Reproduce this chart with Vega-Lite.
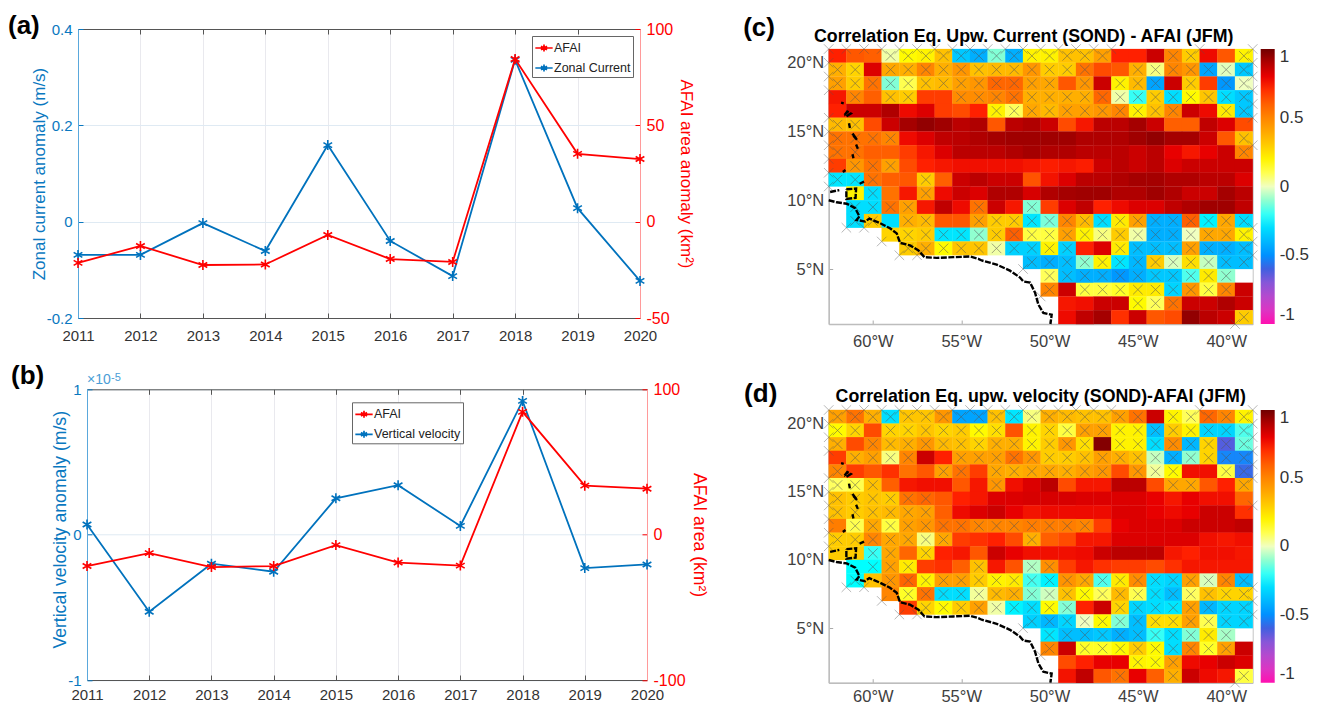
{
"$schema":"https://vega.github.io/schema/vega-lite/v6.json",
"padding":{"left":8,"top":13,"right":0,"bottom":0},
"background":"white",
"config":{"font":"Liberation Sans","view":{"stroke":null}},
"datasets":{
"coast":[
{"id":1,"n":1,"lon":-62.5,"lat":10},{"id":1,"n":2,"lon":-62.05,"lat":9.85},{"id":1,"n":3,"lon":-61.48,"lat":9.75},{"id":1,"n":4,"lon":-61,"lat":9.43},{"id":1,"n":5,"lon":-60.76,"lat":8.82},{"id":1,"n":6,"lon":-60.92,"lat":8.57},{"id":1,"n":7,"lon":-60.44,"lat":8.45},{"id":1,"n":8,"lon":-60.2,"lat":8.67},{"id":1,"n":9,"lon":-59.59,"lat":8.33},{"id":1,"n":10,"lon":-59.03,"lat":7.96},{"id":1,"n":11,"lon":-58.65,"lat":7.59},{"id":1,"n":12,"lon":-58.46,"lat":6.9},{"id":1,"n":13,"lon":-57.9,"lat":6.72},{"id":1,"n":14,"lon":-57.42,"lat":6.35},{"id":1,"n":15,"lon":-57.08,"lat":5.86},{"id":1,"n":16,"lon":-56.39,"lat":5.81},{"id":1,"n":17,"lon":-55.44,"lat":5.86},{"id":1,"n":18,"lon":-54.5,"lat":5.91},{"id":1,"n":19,"lon":-54.03,"lat":5.74},{"id":1,"n":20,"lon":-53.84,"lat":5.62},{"id":1,"n":21,"lon":-52.99,"lat":5.32},{"id":1,"n":22,"lon":-52.24,"lat":4.88},{"id":1,"n":23,"lon":-51.67,"lat":4.38},{"id":1,"n":24,"lon":-51.48,"lat":4.09},{"id":1,"n":25,"lon":-51.1,"lat":4.01},{"id":1,"n":26,"lon":-50.82,"lat":3.28},{"id":1,"n":27,"lon":-50.63,"lat":2.41},{"id":1,"n":28,"lon":-50.35,"lat":1.8},{"id":1,"n":29,"lon":-49.88,"lat":1.67},{"id":1,"n":30,"lon":-49.95,"lat":1},
{"id":2,"n":1,"lon":-62.42,"lat":10.6},{"id":2,"n":2,"lon":-61.9,"lat":10.74},
{"id":3,"n":1,"lon":-61.5,"lat":10.8},{"id":3,"n":2,"lon":-60.95,"lat":10.85},{"id":3,"n":3,"lon":-60.98,"lat":10.17},{"id":3,"n":4,"lon":-61.5,"lat":10.1},{"id":3,"n":5,"lon":-61.5,"lat":10.8},
{"id":4,"n":1,"lon":-60.75,"lat":11.2},{"id":4,"n":2,"lon":-60.5,"lat":11.35},
{"id":5,"n":1,"lon":-61.8,"lat":17.1},{"id":5,"n":2,"lon":-61.65,"lat":17.05},
{"id":6,"n":1,"lon":-61.6,"lat":16.2},{"id":6,"n":2,"lon":-61.45,"lat":16.45},{"id":6,"n":3,"lon":-61.25,"lat":16.3},{"id":6,"n":4,"lon":-61.5,"lat":16.1},{"id":6,"n":5,"lon":-61.6,"lat":16.2},
{"id":7,"n":1,"lon":-61.35,"lat":15.6},{"id":7,"n":2,"lon":-61.3,"lat":15.25},
{"id":8,"n":1,"lon":-61.15,"lat":14.85},{"id":8,"n":2,"lon":-60.9,"lat":14.4},{"id":8,"n":3,"lon":-61.1,"lat":14.7},
{"id":9,"n":1,"lon":-60.95,"lat":14.05},{"id":9,"n":2,"lon":-60.85,"lat":13.75},
{"id":10,"n":1,"lon":-61.15,"lat":13.35},{"id":10,"n":2,"lon":-61.1,"lat":13.05},
{"id":11,"n":1,"lon":-61.7,"lat":12.05},{"id":11,"n":2,"lon":-61.55,"lat":12.2}
],
"edge":[
{"lon":-62.5,"lat":21},{"lon":-61.5,"lat":21},{"lon":-60.5,"lat":21},{"lon":-59.5,"lat":21},{"lon":-58.5,"lat":21},{"lon":-57.5,"lat":21},{"lon":-56.5,"lat":21},{"lon":-55.5,"lat":21},{"lon":-54.5,"lat":21},{"lon":-53.5,"lat":21},{"lon":-52.5,"lat":21},{"lon":-51.5,"lat":21},{"lon":-50.5,"lat":21},{"lon":-49.5,"lat":21},{"lon":-48.5,"lat":21},{"lon":-47.5,"lat":21},{"lon":-46.5,"lat":21},{"lon":-41.5,"lat":21},{"lon":-38.5,"lat":21},
{"lon":-62.5,"lat":20},{"lon":-62.5,"lat":19},{"lon":-62.5,"lat":18},{"lon":-62.5,"lat":16},{"lon":-62.5,"lat":15},{"lon":-62.5,"lat":14},{"lon":-62.5,"lat":13},{"lon":-62.5,"lat":12},{"lon":-62.5,"lat":11},
{"lon":-38.5,"lat":20},{"lon":-38.5,"lat":19},{"lon":-38.5,"lat":18},{"lon":-38.5,"lat":17},{"lon":-38.5,"lat":16},{"lon":-38.5,"lat":14},{"lon":-38.5,"lat":8},{"lon":-38.5,"lat":7},{"lon":-38.5,"lat":6},
{"lon":-61.5,"lat":8},{"lon":-60.5,"lat":8},{"lon":-59.5,"lat":7},{"lon":-58.5,"lat":6},{"lon":-57.5,"lat":6},{"lon":-51.5,"lat":5},{"lon":-50.5,"lat":3},{"lon":-39.5,"lat":1}
],
"c":[
{"lon":-62,"lat":20.5,"r":0.72},{"lon":-61,"lat":20.5,"r":0.62},{"lon":-60,"lat":20.5,"r":0.6},{"lon":-59,"lat":20.5,"r":0.02,"sig":1},{"lon":-58,"lat":20.5,"r":0.18,"sig":1},{"lon":-57,"lat":20.5,"r":0.2,"sig":1},{"lon":-56,"lat":20.5,"r":0.33,"sig":1},{"lon":-55,"lat":20.5,"r":-0.35,"sig":1},{"lon":-54,"lat":20.5,"r":-0.42,"sig":1},{"lon":-53,"lat":20.5,"r":-0.12,"sig":1},{"lon":-52,"lat":20.5,"r":-0.42,"sig":1},{"lon":-51,"lat":20.5,"r":0.2,"sig":1},{"lon":-50,"lat":20.5,"r":0.2,"sig":1},{"lon":-49,"lat":20.5,"r":0.33,"sig":1},{"lon":-48,"lat":20.5,"r":0.33,"sig":1},{"lon":-47,"lat":20.5,"r":0.42,"sig":1},{"lon":-46,"lat":20.5,"r":0.72},{"lon":-45,"lat":20.5,"r":0.72},{"lon":-44,"lat":20.5,"r":0.85},{"lon":-43,"lat":20.5,"r":0.5,"sig":1},{"lon":-42,"lat":20.5,"r":0.3,"sig":1},{"lon":-41,"lat":20.5,"r":0.78},{"lon":-40,"lat":20.5,"r":0.62},{"lon":-39,"lat":20.5,"r":0.2,"sig":1},
{"lon":-62,"lat":19.5,"r":0.38,"sig":1},{"lon":-61,"lat":19.5,"r":0.28,"sig":1},{"lon":-60,"lat":19.5,"r":0.82},{"lon":-59,"lat":19.5,"r":0.4,"sig":1},{"lon":-58,"lat":19.5,"r":0.38,"sig":1},{"lon":-57,"lat":19.5,"r":0.5,"sig":1},{"lon":-56,"lat":19.5,"r":0.38,"sig":1},{"lon":-55,"lat":19.5,"r":0.45,"sig":1},{"lon":-54,"lat":19.5,"r":0.33,"sig":1},{"lon":-53,"lat":19.5,"r":0.35,"sig":1},{"lon":-52,"lat":19.5,"r":0.35,"sig":1},{"lon":-51,"lat":19.5,"r":0.45,"sig":1},{"lon":-50,"lat":19.5,"r":0.3,"sig":1},{"lon":-49,"lat":19.5,"r":0.3,"sig":1},{"lon":-48,"lat":19.5,"r":0.55,"sig":1},{"lon":-47,"lat":19.5,"r":0.65},{"lon":-46,"lat":19.5,"r":0.62},{"lon":-45,"lat":19.5,"r":0.38,"sig":1},{"lon":-44,"lat":19.5,"r":0.05,"sig":1},{"lon":-43,"lat":19.5,"r":0.5,"sig":1},{"lon":-42,"lat":19.5,"r":0.45,"sig":1},{"lon":-41,"lat":19.5,"r":-0.45,"sig":1},{"lon":-40,"lat":19.5,"r":-0.02,"sig":1},{"lon":-39,"lat":19.5,"r":-0.35,"sig":1},
{"lon":-62,"lat":18.5,"r":0.42,"sig":1},{"lon":-61,"lat":18.5,"r":0.3,"sig":1},{"lon":-60,"lat":18.5,"r":0.55,"sig":1},{"lon":-59,"lat":18.5,"r":-0.12,"sig":1},{"lon":-58,"lat":18.5,"r":0.1,"sig":1},{"lon":-57,"lat":18.5,"r":0.33,"sig":1},{"lon":-56,"lat":18.5,"r":0.35,"sig":1},{"lon":-55,"lat":18.5,"r":0.42,"sig":1},{"lon":-54,"lat":18.5,"r":0.45,"sig":1},{"lon":-53,"lat":18.5,"r":0.58,"sig":1},{"lon":-52,"lat":18.5,"r":0.58,"sig":1},{"lon":-51,"lat":18.5,"r":0.42,"sig":1},{"lon":-50,"lat":18.5,"r":0.4,"sig":1},{"lon":-49,"lat":18.5,"r":0.62},{"lon":-48,"lat":18.5,"r":0.45,"sig":1},{"lon":-47,"lat":18.5,"r":0.85},{"lon":-46,"lat":18.5,"r":0.2,"sig":1},{"lon":-45,"lat":18.5,"r":0.35,"sig":1},{"lon":-44,"lat":18.5,"r":-0.45,"sig":1},{"lon":-43,"lat":18.5,"r":0.85},{"lon":-42,"lat":18.5,"r":0.3,"sig":1},{"lon":-41,"lat":18.5,"r":0.68},{"lon":-40,"lat":18.5,"r":-0.48,"sig":1},{"lon":-39,"lat":18.5,"r":0,"sig":1},
{"lon":-62,"lat":17.5,"r":0.75},{"lon":-61,"lat":17.5,"r":0.5,"sig":1},{"lon":-60,"lat":17.5,"r":0.6},{"lon":-59,"lat":17.5,"r":0.33,"sig":1},{"lon":-58,"lat":17.5,"r":0.3,"sig":1},{"lon":-57,"lat":17.5,"r":0.68},{"lon":-56,"lat":17.5,"r":0.68},{"lon":-55,"lat":17.5,"r":0.48,"sig":1},{"lon":-54,"lat":17.5,"r":0.48,"sig":1},{"lon":-53,"lat":17.5,"r":0.5,"sig":1},{"lon":-52,"lat":17.5,"r":0.55,"sig":1},{"lon":-51,"lat":17.5,"r":0.38,"sig":1},{"lon":-50,"lat":17.5,"r":0.38,"sig":1},{"lon":-49,"lat":17.5,"r":0.38,"sig":1},{"lon":-48,"lat":17.5,"r":0.38,"sig":1},{"lon":-47,"lat":17.5,"r":0.58,"sig":1},{"lon":-46,"lat":17.5,"r":0.02,"sig":1},{"lon":-45,"lat":17.5,"r":-0.2,"sig":1},{"lon":-44,"lat":17.5,"r":0.3,"sig":1},{"lon":-43,"lat":17.5,"r":-0.3,"sig":1},{"lon":-42,"lat":17.5,"r":0.18,"sig":1},{"lon":-41,"lat":17.5,"r":0.32,"sig":1},{"lon":-40,"lat":17.5,"r":-0.3,"sig":1},{"lon":-39,"lat":17.5,"r":-0.35,"sig":1},
{"lon":-62,"lat":16.5,"r":0.72},{"lon":-61,"lat":16.5,"r":0.85},{"lon":-60,"lat":16.5,"r":0.85},{"lon":-59,"lat":16.5,"r":0.9},{"lon":-58,"lat":16.5,"r":0.78},{"lon":-57,"lat":16.5,"r":0.82},{"lon":-56,"lat":16.5,"r":0.68},{"lon":-55,"lat":16.5,"r":0.65},{"lon":-54,"lat":16.5,"r":0.72},{"lon":-53,"lat":16.5,"r":0.2,"sig":1},{"lon":-52,"lat":16.5,"r":0.08,"sig":1},{"lon":-51,"lat":16.5,"r":0.4,"sig":1},{"lon":-50,"lat":16.5,"r":0.35,"sig":1},{"lon":-49,"lat":16.5,"r":0.42,"sig":1},{"lon":-48,"lat":16.5,"r":0.42,"sig":1},{"lon":-47,"lat":16.5,"r":0.45,"sig":1},{"lon":-46,"lat":16.5,"r":0.5,"sig":1},{"lon":-45,"lat":16.5,"r":0.2,"sig":1},{"lon":-44,"lat":16.5,"r":0.33,"sig":1},{"lon":-43,"lat":16.5,"r":0.5,"sig":1},{"lon":-42,"lat":16.5,"r":0.85},{"lon":-41,"lat":16.5,"r":0.78},{"lon":-40,"lat":16.5,"r":0.22,"sig":1},{"lon":-39,"lat":16.5,"r":-0.35,"sig":1},
{"lon":-62,"lat":15.5,"r":0.35,"sig":1},{"lon":-61,"lat":15.5,"r":0.33,"sig":1},{"lon":-60,"lat":15.5,"r":0.65},{"lon":-59,"lat":15.5,"r":0.85},{"lon":-58,"lat":15.5,"r":0.92},{"lon":-57,"lat":15.5,"r":0.95},{"lon":-56,"lat":15.5,"r":0.93},{"lon":-55,"lat":15.5,"r":0.88},{"lon":-54,"lat":15.5,"r":0.9},{"lon":-53,"lat":15.5,"r":0.62},{"lon":-52,"lat":15.5,"r":0.88},{"lon":-51,"lat":15.5,"r":0.9},{"lon":-50,"lat":15.5,"r":0.85},{"lon":-49,"lat":15.5,"r":0.65},{"lon":-48,"lat":15.5,"r":0.75},{"lon":-47,"lat":15.5,"r":0.88},{"lon":-46,"lat":15.5,"r":0.88},{"lon":-45,"lat":15.5,"r":0.92},{"lon":-44,"lat":15.5,"r":0.85},{"lon":-43,"lat":15.5,"r":0.6},{"lon":-42,"lat":15.5,"r":0.6},{"lon":-41,"lat":15.5,"r":0.87},{"lon":-40,"lat":15.5,"r":0.82},{"lon":-39,"lat":15.5,"r":0.65},
{"lon":-62,"lat":14.5,"r":0.55,"sig":1},{"lon":-61,"lat":14.5,"r":0.55,"sig":1},{"lon":-60,"lat":14.5,"r":0.55,"sig":1},{"lon":-59,"lat":14.5,"r":0.5,"sig":1},{"lon":-58,"lat":14.5,"r":0.78},{"lon":-57,"lat":14.5,"r":0.82},{"lon":-56,"lat":14.5,"r":0.87},{"lon":-55,"lat":14.5,"r":0.88},{"lon":-54,"lat":14.5,"r":0.9},{"lon":-53,"lat":14.5,"r":0.92},{"lon":-52,"lat":14.5,"r":0.93},{"lon":-51,"lat":14.5,"r":0.93},{"lon":-50,"lat":14.5,"r":0.93},{"lon":-49,"lat":14.5,"r":0.93},{"lon":-48,"lat":14.5,"r":0.9},{"lon":-47,"lat":14.5,"r":0.9},{"lon":-46,"lat":14.5,"r":0.9},{"lon":-45,"lat":14.5,"r":0.93},{"lon":-44,"lat":14.5,"r":0.95},{"lon":-43,"lat":14.5,"r":0.92},{"lon":-42,"lat":14.5,"r":0.92},{"lon":-41,"lat":14.5,"r":0.85},{"lon":-40,"lat":14.5,"r":0.62},{"lon":-39,"lat":14.5,"r":0.33,"sig":1},
{"lon":-62,"lat":13.5,"r":0.55,"sig":1},{"lon":-61,"lat":13.5,"r":0.55,"sig":1},{"lon":-60,"lat":13.5,"r":0.6},{"lon":-59,"lat":13.5,"r":0.6},{"lon":-58,"lat":13.5,"r":0.68},{"lon":-57,"lat":13.5,"r":0.75},{"lon":-56,"lat":13.5,"r":0.82},{"lon":-55,"lat":13.5,"r":0.88},{"lon":-54,"lat":13.5,"r":0.88},{"lon":-53,"lat":13.5,"r":0.88},{"lon":-52,"lat":13.5,"r":0.9},{"lon":-51,"lat":13.5,"r":0.92},{"lon":-50,"lat":13.5,"r":0.9},{"lon":-49,"lat":13.5,"r":0.9},{"lon":-48,"lat":13.5,"r":0.88},{"lon":-47,"lat":13.5,"r":0.88},{"lon":-46,"lat":13.5,"r":0.88},{"lon":-45,"lat":13.5,"r":0.85},{"lon":-44,"lat":13.5,"r":0.88},{"lon":-43,"lat":13.5,"r":0.8},{"lon":-42,"lat":13.5,"r":0.75},{"lon":-41,"lat":13.5,"r":0.8},{"lon":-40,"lat":13.5,"r":0.85},{"lon":-39,"lat":13.5,"r":0.5,"sig":1},
{"lon":-62,"lat":12.5,"r":0.68},{"lon":-61,"lat":12.5,"r":0.45,"sig":1},{"lon":-60,"lat":12.5,"r":0.55,"sig":1},{"lon":-59,"lat":12.5,"r":0.42,"sig":1},{"lon":-58,"lat":12.5,"r":0.65},{"lon":-57,"lat":12.5,"r":0.72},{"lon":-56,"lat":12.5,"r":0.75},{"lon":-55,"lat":12.5,"r":0.77},{"lon":-54,"lat":12.5,"r":0.77},{"lon":-53,"lat":12.5,"r":0.77},{"lon":-52,"lat":12.5,"r":0.77},{"lon":-51,"lat":12.5,"r":0.75},{"lon":-50,"lat":12.5,"r":0.73},{"lon":-49,"lat":12.5,"r":0.75},{"lon":-48,"lat":12.5,"r":0.73},{"lon":-47,"lat":12.5,"r":0.85},{"lon":-46,"lat":12.5,"r":0.88},{"lon":-45,"lat":12.5,"r":0.85},{"lon":-44,"lat":12.5,"r":0.88},{"lon":-43,"lat":12.5,"r":0.82},{"lon":-42,"lat":12.5,"r":0.85},{"lon":-41,"lat":12.5,"r":0.85},{"lon":-40,"lat":12.5,"r":0.85},{"lon":-39,"lat":12.5,"r":0.85},
{"lon":-62,"lat":11.5,"r":-0.28,"sig":1},{"lon":-61,"lat":11.5,"r":-0.28,"sig":1},{"lon":-60,"lat":11.5,"r":0.55,"sig":1},{"lon":-59,"lat":11.5,"r":0.6},{"lon":-58,"lat":11.5,"r":0.62},{"lon":-57,"lat":11.5,"r":0.3,"sig":1},{"lon":-56,"lat":11.5,"r":0.6},{"lon":-55,"lat":11.5,"r":0.85},{"lon":-54,"lat":11.5,"r":0.88},{"lon":-53,"lat":11.5,"r":0.85},{"lon":-52,"lat":11.5,"r":0.85},{"lon":-51,"lat":11.5,"r":0.63},{"lon":-50,"lat":11.5,"r":0.76},{"lon":-49,"lat":11.5,"r":0.82},{"lon":-48,"lat":11.5,"r":0.88},{"lon":-47,"lat":11.5,"r":0.88},{"lon":-46,"lat":11.5,"r":0.9},{"lon":-45,"lat":11.5,"r":0.92},{"lon":-44,"lat":11.5,"r":0.92},{"lon":-43,"lat":11.5,"r":0.9},{"lon":-42,"lat":11.5,"r":0.9},{"lon":-41,"lat":11.5,"r":0.88},{"lon":-40,"lat":11.5,"r":0.88},{"lon":-39,"lat":11.5,"r":0.82},
{"lon":-61,"lat":10.5,"r":0.2},{"lon":-60,"lat":10.5,"r":-0.3,"sig":1},{"lon":-59,"lat":10.5,"r":0.55},{"lon":-58,"lat":10.5,"r":0.75},{"lon":-57,"lat":10.5,"r":0.42,"sig":1},{"lon":-56,"lat":10.5,"r":0.78},{"lon":-55,"lat":10.5,"r":0.85},{"lon":-54,"lat":10.5,"r":0.82},{"lon":-53,"lat":10.5,"r":0.9},{"lon":-52,"lat":10.5,"r":0.9},{"lon":-51,"lat":10.5,"r":0.83},{"lon":-50,"lat":10.5,"r":0.9},{"lon":-49,"lat":10.5,"r":0.92},{"lon":-48,"lat":10.5,"r":0.93},{"lon":-47,"lat":10.5,"r":0.93},{"lon":-46,"lat":10.5,"r":0.9},{"lon":-45,"lat":10.5,"r":0.9},{"lon":-44,"lat":10.5,"r":0.93},{"lon":-43,"lat":10.5,"r":0.9},{"lon":-42,"lat":10.5,"r":0.85},{"lon":-41,"lat":10.5,"r":0.85},{"lon":-40,"lat":10.5,"r":0.92},{"lon":-39,"lat":10.5,"r":0.88},
{"lon":-61,"lat":9.5,"r":-0.3,"sig":1},{"lon":-60,"lat":9.5,"r":-0.3,"sig":1},{"lon":-59,"lat":9.5,"r":0.55,"sig":1},{"lon":-58,"lat":9.5,"r":0.42,"sig":1},{"lon":-57,"lat":9.5,"r":0.75},{"lon":-56,"lat":9.5,"r":0.87},{"lon":-55,"lat":9.5,"r":0.78},{"lon":-54,"lat":9.5,"r":0.55,"sig":1},{"lon":-53,"lat":9.5,"r":0.85},{"lon":-52,"lat":9.5,"r":0.75},{"lon":-51,"lat":9.5,"r":-0.12,"sig":1},{"lon":-50,"lat":9.5,"r":0.68},{"lon":-49,"lat":9.5,"r":0.82},{"lon":-48,"lat":9.5,"r":0.87},{"lon":-47,"lat":9.5,"r":0.72},{"lon":-46,"lat":9.5,"r":0.78},{"lon":-45,"lat":9.5,"r":0.82},{"lon":-44,"lat":9.5,"r":0.82},{"lon":-43,"lat":9.5,"r":0.87},{"lon":-42,"lat":9.5,"r":0.9},{"lon":-41,"lat":9.5,"r":0.93},{"lon":-40,"lat":9.5,"r":0.93},{"lon":-39,"lat":9.5,"r":0.87},
{"lon":-61,"lat":8.5,"r":-0.3,"sig":1},{"lon":-60,"lat":8.5,"r":0.3,"sig":1},{"lon":-59,"lat":8.5,"r":-0.3},{"lon":-58,"lat":8.5,"r":0.38,"sig":1},{"lon":-57,"lat":8.5,"r":0.35,"sig":1},{"lon":-56,"lat":8.5,"r":0.62},{"lon":-55,"lat":8.5,"r":0.62},{"lon":-54,"lat":8.5,"r":0.42,"sig":1},{"lon":-53,"lat":8.5,"r":0.3,"sig":1},{"lon":-52,"lat":8.5,"r":0.3,"sig":1},{"lon":-51,"lat":8.5,"r":-0.28,"sig":1},{"lon":-50,"lat":8.5,"r":-0.13,"sig":1},{"lon":-49,"lat":8.5,"r":0.5,"sig":1},{"lon":-48,"lat":8.5,"r":0.35,"sig":1},{"lon":-47,"lat":8.5,"r":-0.3,"sig":1},{"lon":-46,"lat":8.5,"r":0.22,"sig":1},{"lon":-45,"lat":8.5,"r":0.42,"sig":1},{"lon":-44,"lat":8.5,"r":-0.42,"sig":1},{"lon":-43,"lat":8.5,"r":-0.42,"sig":1},{"lon":-42,"lat":8.5,"r":0.6,"sig":1},{"lon":-41,"lat":8.5,"r":-0.25,"sig":1},{"lon":-40,"lat":8.5,"r":0.4,"sig":1},{"lon":-39,"lat":8.5,"r":-0.3,"sig":1},
{"lon":-59,"lat":7.5,"r":0.28},{"lon":-58,"lat":7.5,"r":0.28,"sig":1},{"lon":-57,"lat":7.5,"r":0.3,"sig":1},{"lon":-56,"lat":7.5,"r":-0.28,"sig":1},{"lon":-55,"lat":7.5,"r":-0.28,"sig":1},{"lon":-54,"lat":7.5,"r":-0.1,"sig":1},{"lon":-53,"lat":7.5,"r":0.3,"sig":1},{"lon":-52,"lat":7.5,"r":0.6,"sig":1},{"lon":-51,"lat":7.5,"r":0.12,"sig":1},{"lon":-50,"lat":7.5,"r":0.12,"sig":1},{"lon":-49,"lat":7.5,"r":0.42,"sig":1},{"lon":-48,"lat":7.5,"r":0.2,"sig":1},{"lon":-47,"lat":7.5,"r":0.05,"sig":1},{"lon":-46,"lat":7.5,"r":0.3,"sig":1},{"lon":-45,"lat":7.5,"r":0.02,"sig":1},{"lon":-44,"lat":7.5,"r":-0.42,"sig":1},{"lon":-43,"lat":7.5,"r":-0.42,"sig":1},{"lon":-42,"lat":7.5,"r":0,"sig":1},{"lon":-41,"lat":7.5,"r":0.4,"sig":1},{"lon":-40,"lat":7.5,"r":0.4,"sig":1},{"lon":-39,"lat":7.5,"r":0.2,"sig":1},
{"lon":-58,"lat":6.5,"r":0.3,"sig":1},{"lon":-57,"lat":6.5,"r":0.38,"sig":1},{"lon":-56,"lat":6.5,"r":0.18,"sig":1},{"lon":-55,"lat":6.5,"r":0.32,"sig":1},{"lon":-54,"lat":6.5,"r":0.32,"sig":1},{"lon":-53,"lat":6.5,"r":0.02,"sig":1},{"lon":-52,"lat":6.5,"r":-0.33,"sig":1},{"lon":-51,"lat":6.5,"r":-0.33,"sig":1},{"lon":-50,"lat":6.5,"r":0.2,"sig":1},{"lon":-49,"lat":6.5,"r":-0.33,"sig":1},{"lon":-48,"lat":6.5,"r":0.72},{"lon":-47,"lat":6.5,"r":0.82},{"lon":-46,"lat":6.5,"r":0.22,"sig":1},{"lon":-45,"lat":6.5,"r":-0.38,"sig":1},{"lon":-44,"lat":6.5,"r":-0.38,"sig":1},{"lon":-43,"lat":6.5,"r":-0.38,"sig":1},{"lon":-42,"lat":6.5,"r":0.42,"sig":1},{"lon":-41,"lat":6.5,"r":-0.42,"sig":1},{"lon":-40,"lat":6.5,"r":-0.42,"sig":1},{"lon":-39,"lat":6.5,"r":-0.38,"sig":1},
{"lon":-51,"lat":5.5,"r":-0.38,"sig":1},{"lon":-50,"lat":5.5,"r":-0.42,"sig":1},{"lon":-49,"lat":5.5,"r":-0.38,"sig":1},{"lon":-48,"lat":5.5,"r":-0.1,"sig":1},{"lon":-47,"lat":5.5,"r":0.2,"sig":1},{"lon":-46,"lat":5.5,"r":-0.28,"sig":1},{"lon":-45,"lat":5.5,"r":-0.4,"sig":1},{"lon":-44,"lat":5.5,"r":0.3,"sig":1},{"lon":-43,"lat":5.5,"r":-0.03,"sig":1},{"lon":-42,"lat":5.5,"r":0.25,"sig":1},{"lon":-41,"lat":5.5,"r":-0.05,"sig":1},{"lon":-40,"lat":5.5,"r":-0.38,"sig":1},{"lon":-39,"lat":5.5,"r":-0.38,"sig":1},
{"lon":-50,"lat":4.5,"r":0.08,"sig":1},{"lon":-49,"lat":4.5,"r":-0.38,"sig":1},{"lon":-48,"lat":4.5,"r":-0.42,"sig":1},{"lon":-47,"lat":4.5,"r":-0.42,"sig":1},{"lon":-46,"lat":4.5,"r":-0.48,"sig":1},{"lon":-45,"lat":4.5,"r":-0.42,"sig":1},{"lon":-44,"lat":4.5,"r":-0.35,"sig":1},{"lon":-43,"lat":4.5,"r":-0.35,"sig":1},{"lon":-42,"lat":4.5,"r":-0.18,"sig":1},{"lon":-41,"lat":4.5,"r":0.22,"sig":1},{"lon":-40,"lat":4.5,"r":-0.1,"sig":1},
{"lon":-50,"lat":3.5,"r":0.5,"sig":1},{"lon":-49,"lat":3.5,"r":0.85},{"lon":-48,"lat":3.5,"r":0.12,"sig":1},{"lon":-47,"lat":3.5,"r":0.12,"sig":1},{"lon":-46,"lat":3.5,"r":0.15,"sig":1},{"lon":-45,"lat":3.5,"r":0.22,"sig":1},{"lon":-44,"lat":3.5,"r":0.22,"sig":1},{"lon":-43,"lat":3.5,"r":-0.32,"sig":1},{"lon":-42,"lat":3.5,"r":0.45,"sig":1},{"lon":-41,"lat":3.5,"r":0.12,"sig":1},{"lon":-40,"lat":3.5,"r":0.5,"sig":1},{"lon":-39,"lat":3.5,"r":0.85},
{"lon":-49,"lat":2.5,"r":0.75},{"lon":-48,"lat":2.5,"r":0.77},{"lon":-47,"lat":2.5,"r":0.85},{"lon":-46,"lat":2.5,"r":0.85},{"lon":-45,"lat":2.5,"r":0.18,"sig":1},{"lon":-44,"lat":2.5,"r":0.08,"sig":1},{"lon":-43,"lat":2.5,"r":0.55,"sig":1},{"lon":-42,"lat":2.5,"r":0.85},{"lon":-41,"lat":2.5,"r":0.85},{"lon":-40,"lat":2.5,"r":0.9},{"lon":-39,"lat":2.5,"r":0.85},
{"lon":-49,"lat":1.5,"r":0.78},{"lon":-48,"lat":1.5,"r":0.87},{"lon":-47,"lat":1.5,"r":0.92},{"lon":-46,"lat":1.5,"r":0.7},{"lon":-45,"lat":1.5,"r":0.85},{"lon":-44,"lat":1.5,"r":0.62},{"lon":-43,"lat":1.5,"r":0.65},{"lon":-42,"lat":1.5,"r":0.95},{"lon":-41,"lat":1.5,"r":0.88},{"lon":-40,"lat":1.5,"r":0.85},{"lon":-39,"lat":1.5,"r":0.3,"sig":1}
],
"d":[
{"lon":-62,"lat":20.5,"r":0.42,"sig":1},{"lon":-61,"lat":20.5,"r":0.55,"sig":1},{"lon":-60,"lat":20.5,"r":0.38,"sig":1},{"lon":-59,"lat":20.5,"r":-0.3,"sig":1},{"lon":-58,"lat":20.5,"r":0.32,"sig":1},{"lon":-57,"lat":20.5,"r":0.32,"sig":1},{"lon":-56,"lat":20.5,"r":0.45,"sig":1},{"lon":-55,"lat":20.5,"r":-0.45,"sig":1},{"lon":-54,"lat":20.5,"r":-0.45,"sig":1},{"lon":-53,"lat":20.5,"r":0.33,"sig":1},{"lon":-52,"lat":20.5,"r":-0.28,"sig":1},{"lon":-51,"lat":20.5,"r":0.05,"sig":1},{"lon":-50,"lat":20.5,"r":0.38,"sig":1},{"lon":-49,"lat":20.5,"r":0.35,"sig":1},{"lon":-48,"lat":20.5,"r":0.33,"sig":1},{"lon":-47,"lat":20.5,"r":0.33,"sig":1},{"lon":-46,"lat":20.5,"r":0.42,"sig":1},{"lon":-45,"lat":20.5,"r":0.55,"sig":1},{"lon":-44,"lat":20.5,"r":0.85},{"lon":-43,"lat":20.5,"r":0.2,"sig":1},{"lon":-42,"lat":20.5,"r":0.08,"sig":1},{"lon":-41,"lat":20.5,"r":0.58,"sig":1},{"lon":-40,"lat":20.5,"r":0.5,"sig":1},{"lon":-39,"lat":20.5,"r":0.2,"sig":1},
{"lon":-62,"lat":19.5,"r":0.18,"sig":1},{"lon":-61,"lat":19.5,"r":0.28,"sig":1},{"lon":-60,"lat":19.5,"r":0.65},{"lon":-59,"lat":19.5,"r":0.28,"sig":1},{"lon":-58,"lat":19.5,"r":0.28,"sig":1},{"lon":-57,"lat":19.5,"r":0.32,"sig":1},{"lon":-56,"lat":19.5,"r":0.28,"sig":1},{"lon":-55,"lat":19.5,"r":0.3,"sig":1},{"lon":-54,"lat":19.5,"r":0.18,"sig":1},{"lon":-53,"lat":19.5,"r":0.25,"sig":1},{"lon":-52,"lat":19.5,"r":0.63},{"lon":-51,"lat":19.5,"r":0.2,"sig":1},{"lon":-50,"lat":19.5,"r":0.28,"sig":1},{"lon":-49,"lat":19.5,"r":0.12,"sig":1},{"lon":-48,"lat":19.5,"r":0.42,"sig":1},{"lon":-47,"lat":19.5,"r":0.42,"sig":1},{"lon":-46,"lat":19.5,"r":0.2,"sig":1},{"lon":-45,"lat":19.5,"r":0.2,"sig":1},{"lon":-44,"lat":19.5,"r":-0.38,"sig":1},{"lon":-43,"lat":19.5,"r":0.3,"sig":1},{"lon":-42,"lat":19.5,"r":0.2,"sig":1},{"lon":-41,"lat":19.5,"r":-0.32,"sig":1},{"lon":-40,"lat":19.5,"r":-0.32,"sig":1},{"lon":-39,"lat":19.5,"r":-0.18,"sig":1},
{"lon":-62,"lat":18.5,"r":0.38,"sig":1},{"lon":-61,"lat":18.5,"r":0.65},{"lon":-60,"lat":18.5,"r":0.5,"sig":1},{"lon":-59,"lat":18.5,"r":0.35,"sig":1},{"lon":-58,"lat":18.5,"r":0.38,"sig":1},{"lon":-57,"lat":18.5,"r":0.45,"sig":1},{"lon":-56,"lat":18.5,"r":0.35,"sig":1},{"lon":-55,"lat":18.5,"r":0.33,"sig":1},{"lon":-54,"lat":18.5,"r":0.28,"sig":1},{"lon":-53,"lat":18.5,"r":0.38,"sig":1},{"lon":-52,"lat":18.5,"r":0.38,"sig":1},{"lon":-51,"lat":18.5,"r":0.2,"sig":1},{"lon":-50,"lat":18.5,"r":0.3,"sig":1},{"lon":-49,"lat":18.5,"r":0.45,"sig":1},{"lon":-48,"lat":18.5,"r":0.25,"sig":1},{"lon":-47,"lat":18.5,"r":0.97},{"lon":-46,"lat":18.5,"r":0.2,"sig":1},{"lon":-45,"lat":18.5,"r":0.2,"sig":1},{"lon":-44,"lat":18.5,"r":-0.3,"sig":1},{"lon":-43,"lat":18.5,"r":0.48,"sig":1},{"lon":-42,"lat":18.5,"r":-0.4,"sig":1},{"lon":-41,"lat":18.5,"r":0.28,"sig":1},{"lon":-40,"lat":18.5,"r":-0.62,"sig":1},{"lon":-39,"lat":18.5,"r":-0.15,"sig":1},
{"lon":-62,"lat":17.5,"r":0.68},{"lon":-61,"lat":17.5,"r":0.38,"sig":1},{"lon":-60,"lat":17.5,"r":0.42,"sig":1},{"lon":-59,"lat":17.5,"r":0.05,"sig":1},{"lon":-58,"lat":17.5,"r":0.5,"sig":1},{"lon":-57,"lat":17.5,"r":0.85},{"lon":-56,"lat":17.5,"r":0.72},{"lon":-55,"lat":17.5,"r":0.42,"sig":1},{"lon":-54,"lat":17.5,"r":0.42,"sig":1},{"lon":-53,"lat":17.5,"r":0.42,"sig":1},{"lon":-52,"lat":17.5,"r":0.55,"sig":1},{"lon":-51,"lat":17.5,"r":0.45,"sig":1},{"lon":-50,"lat":17.5,"r":0.3,"sig":1},{"lon":-49,"lat":17.5,"r":0.3,"sig":1},{"lon":-48,"lat":17.5,"r":0.33,"sig":1},{"lon":-47,"lat":17.5,"r":0.42,"sig":1},{"lon":-46,"lat":17.5,"r":0.38,"sig":1},{"lon":-45,"lat":17.5,"r":0.33,"sig":1},{"lon":-44,"lat":17.5,"r":-0.05,"sig":1},{"lon":-43,"lat":17.5,"r":-0.42,"sig":1},{"lon":-42,"lat":17.5,"r":-0.1,"sig":1},{"lon":-41,"lat":17.5,"r":0.28,"sig":1},{"lon":-40,"lat":17.5,"r":-0.52,"sig":1},{"lon":-39,"lat":17.5,"r":-0.52,"sig":1},
{"lon":-62,"lat":16.5,"r":0.5,"sig":1},{"lon":-61,"lat":16.5,"r":0.68},{"lon":-60,"lat":16.5,"r":0.62},{"lon":-59,"lat":16.5,"r":0.7},{"lon":-58,"lat":16.5,"r":0.55},{"lon":-57,"lat":16.5,"r":0.62},{"lon":-56,"lat":16.5,"r":0.42,"sig":1},{"lon":-55,"lat":16.5,"r":0.55,"sig":1},{"lon":-54,"lat":16.5,"r":0.68},{"lon":-53,"lat":16.5,"r":0.4,"sig":1},{"lon":-52,"lat":16.5,"r":0.38,"sig":1},{"lon":-51,"lat":16.5,"r":0.4,"sig":1},{"lon":-50,"lat":16.5,"r":0.4,"sig":1},{"lon":-49,"lat":16.5,"r":0.38,"sig":1},{"lon":-48,"lat":16.5,"r":0.42,"sig":1},{"lon":-47,"lat":16.5,"r":0.45,"sig":1},{"lon":-46,"lat":16.5,"r":0.65},{"lon":-45,"lat":16.5,"r":0.45,"sig":1},{"lon":-44,"lat":16.5,"r":0.03,"sig":1},{"lon":-43,"lat":16.5,"r":0.18,"sig":1},{"lon":-42,"lat":16.5,"r":0.77},{"lon":-41,"lat":16.5,"r":0.77},{"lon":-40,"lat":16.5,"r":0.12,"sig":1},{"lon":-39,"lat":16.5,"r":-0.58,"sig":1},
{"lon":-62,"lat":15.5,"r":0.07,"sig":1},{"lon":-61,"lat":15.5,"r":0.1,"sig":1},{"lon":-60,"lat":15.5,"r":0.33,"sig":1},{"lon":-59,"lat":15.5,"r":0.6},{"lon":-58,"lat":15.5,"r":0.75},{"lon":-57,"lat":15.5,"r":0.77},{"lon":-56,"lat":15.5,"r":0.77},{"lon":-55,"lat":15.5,"r":0.62},{"lon":-54,"lat":15.5,"r":0.75},{"lon":-53,"lat":15.5,"r":0.45,"sig":1},{"lon":-52,"lat":15.5,"r":0.77},{"lon":-51,"lat":15.5,"r":0.82},{"lon":-50,"lat":15.5,"r":0.88},{"lon":-49,"lat":15.5,"r":0.65},{"lon":-48,"lat":15.5,"r":0.75},{"lon":-47,"lat":15.5,"r":0.75},{"lon":-46,"lat":15.5,"r":0.88},{"lon":-45,"lat":15.5,"r":0.88},{"lon":-44,"lat":15.5,"r":0.65},{"lon":-43,"lat":15.5,"r":0.4,"sig":1},{"lon":-42,"lat":15.5,"r":0.4,"sig":1},{"lon":-41,"lat":15.5,"r":0.62},{"lon":-40,"lat":15.5,"r":0.72},{"lon":-39,"lat":15.5,"r":0.4,"sig":1},
{"lon":-62,"lat":14.5,"r":0.33,"sig":1},{"lon":-61,"lat":14.5,"r":0.3,"sig":1},{"lon":-60,"lat":14.5,"r":0.32,"sig":1},{"lon":-59,"lat":14.5,"r":0.3,"sig":1},{"lon":-58,"lat":14.5,"r":0.55,"sig":1},{"lon":-57,"lat":14.5,"r":0.58,"sig":1},{"lon":-56,"lat":14.5,"r":0.62},{"lon":-55,"lat":14.5,"r":0.72},{"lon":-54,"lat":14.5,"r":0.75},{"lon":-53,"lat":14.5,"r":0.82},{"lon":-52,"lat":14.5,"r":0.82},{"lon":-51,"lat":14.5,"r":0.83},{"lon":-50,"lat":14.5,"r":0.83},{"lon":-49,"lat":14.5,"r":0.83},{"lon":-48,"lat":14.5,"r":0.82},{"lon":-47,"lat":14.5,"r":0.82},{"lon":-46,"lat":14.5,"r":0.82},{"lon":-45,"lat":14.5,"r":0.82},{"lon":-44,"lat":14.5,"r":0.8},{"lon":-43,"lat":14.5,"r":0.75},{"lon":-42,"lat":14.5,"r":0.8},{"lon":-41,"lat":14.5,"r":0.77},{"lon":-40,"lat":14.5,"r":0.77},{"lon":-39,"lat":14.5,"r":0.58},
{"lon":-62,"lat":13.5,"r":0.33,"sig":1},{"lon":-61,"lat":13.5,"r":0.3,"sig":1},{"lon":-60,"lat":13.5,"r":0.33,"sig":1},{"lon":-59,"lat":13.5,"r":0.35,"sig":1},{"lon":-58,"lat":13.5,"r":0.4,"sig":1},{"lon":-57,"lat":13.5,"r":0.42,"sig":1},{"lon":-56,"lat":13.5,"r":0.6},{"lon":-55,"lat":13.5,"r":0.78},{"lon":-54,"lat":13.5,"r":0.82},{"lon":-53,"lat":13.5,"r":0.85},{"lon":-52,"lat":13.5,"r":0.8},{"lon":-51,"lat":13.5,"r":0.76},{"lon":-50,"lat":13.5,"r":0.78},{"lon":-49,"lat":13.5,"r":0.78},{"lon":-48,"lat":13.5,"r":0.78},{"lon":-47,"lat":13.5,"r":0.78},{"lon":-46,"lat":13.5,"r":0.82},{"lon":-45,"lat":13.5,"r":0.82},{"lon":-44,"lat":13.5,"r":0.8},{"lon":-43,"lat":13.5,"r":0.78},{"lon":-42,"lat":13.5,"r":0.8},{"lon":-41,"lat":13.5,"r":0.85},{"lon":-40,"lat":13.5,"r":0.85},{"lon":-39,"lat":13.5,"r":0.7},
{"lon":-62,"lat":12.5,"r":0.52},{"lon":-61,"lat":12.5,"r":0.1,"sig":1},{"lon":-60,"lat":12.5,"r":0.4,"sig":1},{"lon":-59,"lat":12.5,"r":0.12,"sig":1},{"lon":-58,"lat":12.5,"r":0.42,"sig":1},{"lon":-57,"lat":12.5,"r":0.45,"sig":1},{"lon":-56,"lat":12.5,"r":0.55,"sig":1},{"lon":-55,"lat":12.5,"r":0.55,"sig":1},{"lon":-54,"lat":12.5,"r":0.5,"sig":1},{"lon":-53,"lat":12.5,"r":0.5,"sig":1},{"lon":-52,"lat":12.5,"r":0.5,"sig":1},{"lon":-51,"lat":12.5,"r":0.52,"sig":1},{"lon":-50,"lat":12.5,"r":0.52,"sig":1},{"lon":-49,"lat":12.5,"r":0.52,"sig":1},{"lon":-48,"lat":12.5,"r":0.5,"sig":1},{"lon":-47,"lat":12.5,"r":0.68},{"lon":-46,"lat":12.5,"r":0.8},{"lon":-45,"lat":12.5,"r":0.82},{"lon":-44,"lat":12.5,"r":0.82},{"lon":-43,"lat":12.5,"r":0.82},{"lon":-42,"lat":12.5,"r":0.85},{"lon":-41,"lat":12.5,"r":0.85},{"lon":-40,"lat":12.5,"r":0.85},{"lon":-39,"lat":12.5,"r":0.87},
{"lon":-62,"lat":11.5,"r":0.3,"sig":1},{"lon":-61,"lat":11.5,"r":0.3,"sig":1},{"lon":-60,"lat":11.5,"r":0.5,"sig":1},{"lon":-59,"lat":11.5,"r":0.4,"sig":1},{"lon":-58,"lat":11.5,"r":0.4,"sig":1},{"lon":-57,"lat":11.5,"r":0.05,"sig":1},{"lon":-56,"lat":11.5,"r":0.4,"sig":1},{"lon":-55,"lat":11.5,"r":0.68},{"lon":-54,"lat":11.5,"r":0.7},{"lon":-53,"lat":11.5,"r":0.72},{"lon":-52,"lat":11.5,"r":0.65},{"lon":-51,"lat":11.5,"r":0.38,"sig":1},{"lon":-50,"lat":11.5,"r":0.6},{"lon":-49,"lat":11.5,"r":0.65},{"lon":-48,"lat":11.5,"r":0.75},{"lon":-47,"lat":11.5,"r":0.75},{"lon":-46,"lat":11.5,"r":0.82},{"lon":-45,"lat":11.5,"r":0.82},{"lon":-44,"lat":11.5,"r":0.82},{"lon":-43,"lat":11.5,"r":0.82},{"lon":-42,"lat":11.5,"r":0.82},{"lon":-41,"lat":11.5,"r":0.77},{"lon":-40,"lat":11.5,"r":0.75},{"lon":-39,"lat":11.5,"r":0.77},
{"lon":-62,"lat":10.5,"r":0.3},{"lon":-61,"lat":10.5,"r":0.3},{"lon":-60,"lat":10.5,"r":-0.2,"sig":1},{"lon":-59,"lat":10.5,"r":0.4,"sig":1},{"lon":-58,"lat":10.5,"r":0.58},{"lon":-57,"lat":10.5,"r":0.28,"sig":1},{"lon":-56,"lat":10.5,"r":0.72},{"lon":-55,"lat":10.5,"r":0.75},{"lon":-54,"lat":10.5,"r":0.62},{"lon":-53,"lat":10.5,"r":0.85},{"lon":-52,"lat":10.5,"r":0.8},{"lon":-51,"lat":10.5,"r":0.77},{"lon":-50,"lat":10.5,"r":0.77},{"lon":-49,"lat":10.5,"r":0.77},{"lon":-48,"lat":10.5,"r":0.78},{"lon":-47,"lat":10.5,"r":0.85},{"lon":-46,"lat":10.5,"r":0.88},{"lon":-45,"lat":10.5,"r":0.88},{"lon":-44,"lat":10.5,"r":0.88},{"lon":-43,"lat":10.5,"r":0.75},{"lon":-42,"lat":10.5,"r":0.72},{"lon":-41,"lat":10.5,"r":0.77},{"lon":-40,"lat":10.5,"r":0.77},{"lon":-39,"lat":10.5,"r":0.75},
{"lon":-61,"lat":9.5,"r":-0.22},{"lon":-60,"lat":9.5,"r":-0.22,"sig":1},{"lon":-59,"lat":9.5,"r":0.42,"sig":1},{"lon":-58,"lat":9.5,"r":0.22,"sig":1},{"lon":-57,"lat":9.5,"r":0.68},{"lon":-56,"lat":9.5,"r":0.7},{"lon":-55,"lat":9.5,"r":0.6},{"lon":-54,"lat":9.5,"r":0.33,"sig":1},{"lon":-53,"lat":9.5,"r":0.75},{"lon":-52,"lat":9.5,"r":0.63},{"lon":-51,"lat":9.5,"r":-0.07,"sig":1},{"lon":-50,"lat":9.5,"r":0.47,"sig":1},{"lon":-49,"lat":9.5,"r":0.68},{"lon":-48,"lat":9.5,"r":0.75},{"lon":-47,"lat":9.5,"r":0.7},{"lon":-46,"lat":9.5,"r":0.68},{"lon":-45,"lat":9.5,"r":0.68},{"lon":-44,"lat":9.5,"r":0.65},{"lon":-43,"lat":9.5,"r":0.7},{"lon":-42,"lat":9.5,"r":0.75},{"lon":-41,"lat":9.5,"r":0.75},{"lon":-40,"lat":9.5,"r":0.75},{"lon":-39,"lat":9.5,"r":0.75},
{"lon":-61,"lat":8.5,"r":-0.22,"sig":1},{"lon":-60,"lat":8.5,"r":0.33},{"lon":-59,"lat":8.5,"r":0.45,"sig":1},{"lon":-58,"lat":8.5,"r":0.58,"sig":1},{"lon":-57,"lat":8.5,"r":0.2,"sig":1},{"lon":-56,"lat":8.5,"r":0.42,"sig":1},{"lon":-55,"lat":8.5,"r":0.42,"sig":1},{"lon":-54,"lat":8.5,"r":0.3,"sig":1},{"lon":-53,"lat":8.5,"r":0.2,"sig":1},{"lon":-52,"lat":8.5,"r":0.22,"sig":1},{"lon":-51,"lat":8.5,"r":-0.19,"sig":1},{"lon":-50,"lat":8.5,"r":-0.25,"sig":1},{"lon":-49,"lat":8.5,"r":0.46,"sig":1},{"lon":-48,"lat":8.5,"r":0.4,"sig":1},{"lon":-47,"lat":8.5,"r":-0.18,"sig":1},{"lon":-46,"lat":8.5,"r":0.22,"sig":1},{"lon":-45,"lat":8.5,"r":0.48,"sig":1},{"lon":-44,"lat":8.5,"r":-0.3,"sig":1},{"lon":-43,"lat":8.5,"r":-0.32,"sig":1},{"lon":-42,"lat":8.5,"r":0.42,"sig":1},{"lon":-41,"lat":8.5,"r":-0.03,"sig":1},{"lon":-40,"lat":8.5,"r":0.5,"sig":1},{"lon":-39,"lat":8.5,"r":-0.38,"sig":1},
{"lon":-59,"lat":7.5,"r":0.5},{"lon":-58,"lat":7.5,"r":0.15,"sig":1},{"lon":-57,"lat":7.5,"r":0.55,"sig":1},{"lon":-56,"lat":7.5,"r":-0.3,"sig":1},{"lon":-55,"lat":7.5,"r":-0.3,"sig":1},{"lon":-54,"lat":7.5,"r":0.03,"sig":1},{"lon":-53,"lat":7.5,"r":0.35,"sig":1},{"lon":-52,"lat":7.5,"r":0.38,"sig":1},{"lon":-51,"lat":7.5,"r":-0.12,"sig":1},{"lon":-50,"lat":7.5,"r":-0.04,"sig":1},{"lon":-49,"lat":7.5,"r":0.33,"sig":1},{"lon":-48,"lat":7.5,"r":0.18,"sig":1},{"lon":-47,"lat":7.5,"r":0.08,"sig":1},{"lon":-46,"lat":7.5,"r":0.35,"sig":1},{"lon":-45,"lat":7.5,"r":0.1,"sig":1},{"lon":-44,"lat":7.5,"r":-0.3,"sig":1},{"lon":-43,"lat":7.5,"r":-0.38,"sig":1},{"lon":-42,"lat":7.5,"r":0.07,"sig":1},{"lon":-41,"lat":7.5,"r":0.33,"sig":1},{"lon":-40,"lat":7.5,"r":0.28,"sig":1},{"lon":-39,"lat":7.5,"r":0.28,"sig":1},
{"lon":-58,"lat":6.5,"r":0.68},{"lon":-57,"lat":6.5,"r":0.28,"sig":1},{"lon":-56,"lat":6.5,"r":0.18,"sig":1},{"lon":-55,"lat":6.5,"r":0.3,"sig":1},{"lon":-54,"lat":6.5,"r":0.42,"sig":1},{"lon":-53,"lat":6.5,"r":0.02,"sig":1},{"lon":-52,"lat":6.5,"r":-0.25,"sig":1},{"lon":-51,"lat":6.5,"r":-0.3,"sig":1},{"lon":-50,"lat":6.5,"r":0.18,"sig":1},{"lon":-49,"lat":6.5,"r":-0.12,"sig":1},{"lon":-48,"lat":6.5,"r":0.72},{"lon":-47,"lat":6.5,"r":0.85},{"lon":-46,"lat":6.5,"r":0.28,"sig":1},{"lon":-45,"lat":6.5,"r":-0.32,"sig":1},{"lon":-44,"lat":6.5,"r":-0.3,"sig":1},{"lon":-43,"lat":6.5,"r":-0.28,"sig":1},{"lon":-42,"lat":6.5,"r":0.42,"sig":1},{"lon":-41,"lat":6.5,"r":-0.4,"sig":1},{"lon":-40,"lat":6.5,"r":-0.32,"sig":1},{"lon":-39,"lat":6.5,"r":-0.32,"sig":1},
{"lon":-51,"lat":5.5,"r":-0.33,"sig":1},{"lon":-50,"lat":5.5,"r":-0.4,"sig":1},{"lon":-49,"lat":5.5,"r":-0.32,"sig":1},{"lon":-48,"lat":5.5,"r":0,"sig":1},{"lon":-47,"lat":5.5,"r":0.18,"sig":1},{"lon":-46,"lat":5.5,"r":-0.12,"sig":1},{"lon":-45,"lat":5.5,"r":-0.38,"sig":1},{"lon":-44,"lat":5.5,"r":0.25,"sig":1},{"lon":-43,"lat":5.5,"r":0.25,"sig":1},{"lon":-42,"lat":5.5,"r":0.42,"sig":1},{"lon":-41,"lat":5.5,"r":0.1,"sig":1},{"lon":-40,"lat":5.5,"r":-0.32,"sig":1},{"lon":-39,"lat":5.5,"r":-0.32,"sig":1},
{"lon":-50,"lat":4.5,"r":-0.28,"sig":1},{"lon":-49,"lat":4.5,"r":-0.38,"sig":1},{"lon":-48,"lat":4.5,"r":-0.38,"sig":1},{"lon":-47,"lat":4.5,"r":-0.35,"sig":1},{"lon":-46,"lat":4.5,"r":-0.42,"sig":1},{"lon":-45,"lat":4.5,"r":-0.38,"sig":1},{"lon":-44,"lat":4.5,"r":-0.2,"sig":1},{"lon":-43,"lat":4.5,"r":-0.3,"sig":1},{"lon":-42,"lat":4.5,"r":-0.12,"sig":1},{"lon":-41,"lat":4.5,"r":0.22,"sig":1},{"lon":-40,"lat":4.5,"r":-0.08,"sig":1},
{"lon":-50,"lat":3.5,"r":0.5,"sig":1},{"lon":-49,"lat":3.5,"r":0.85},{"lon":-48,"lat":3.5,"r":0.15,"sig":1},{"lon":-47,"lat":3.5,"r":0.15,"sig":1},{"lon":-46,"lat":3.5,"r":0.18,"sig":1},{"lon":-45,"lat":3.5,"r":0.3,"sig":1},{"lon":-44,"lat":3.5,"r":0.18,"sig":1},{"lon":-43,"lat":3.5,"r":-0.3,"sig":1},{"lon":-42,"lat":3.5,"r":0.5,"sig":1},{"lon":-41,"lat":3.5,"r":0.15,"sig":1},{"lon":-40,"lat":3.5,"r":0.42,"sig":1},{"lon":-39,"lat":3.5,"r":0.85},
{"lon":-49,"lat":2.5,"r":0.65},{"lon":-48,"lat":2.5,"r":0.72},{"lon":-47,"lat":2.5,"r":0.8},{"lon":-46,"lat":2.5,"r":0.8},{"lon":-45,"lat":2.5,"r":0.2,"sig":1},{"lon":-44,"lat":2.5,"r":0.18,"sig":1},{"lon":-43,"lat":2.5,"r":0.42,"sig":1},{"lon":-42,"lat":2.5,"r":0.78},{"lon":-41,"lat":2.5,"r":0.8},{"lon":-40,"lat":2.5,"r":0.85},{"lon":-39,"lat":2.5,"r":0.82},
{"lon":-49,"lat":1.5,"r":0.76},{"lon":-48,"lat":1.5,"r":0.87},{"lon":-47,"lat":1.5,"r":0.62},{"lon":-46,"lat":1.5,"r":0.55,"sig":1},{"lon":-45,"lat":1.5,"r":0.8},{"lon":-44,"lat":1.5,"r":0.6},{"lon":-43,"lat":1.5,"r":0.38,"sig":1},{"lon":-42,"lat":1.5,"r":0.85},{"lon":-41,"lat":1.5,"r":0.78},{"lon":-40,"lat":1.5,"r":0.75},{"lon":-39,"lat":1.5,"r":0.12,"sig":1}
]
},
"hconcat":[
{"vconcat":[
{"width":562,"height":289,
"title":{"text":"(a)","anchor":"start","frame":"group","dx":-70,"dy":18,"offset":0,"fontSize":26,"fontWeight":"bold","color":"#000"},
"data":{"values":[
{"year":2011,"series":"Zonal Current","v":-0.069},{"year":2012,"series":"Zonal Current","v":-0.069},{"year":2013,"series":"Zonal Current","v":-0.003},{"year":2014,"series":"Zonal Current","v":-0.061},{"year":2015,"series":"Zonal Current","v":0.159},{"year":2016,"series":"Zonal Current","v":-0.04},{"year":2017,"series":"Zonal Current","v":-0.113},{"year":2018,"series":"Zonal Current","v":0.336},{"year":2019,"series":"Zonal Current","v":0.028},{"year":2020,"series":"Zonal Current","v":-0.123},
{"year":2011,"series":"AFAI","v":-21.4},{"year":2012,"series":"AFAI","v":-12.6},{"year":2013,"series":"AFAI","v":-22.5},{"year":2014,"series":"AFAI","v":-22.2},{"year":2015,"series":"AFAI","v":-6.9},{"year":2016,"series":"AFAI","v":-19.4},{"year":2017,"series":"AFAI","v":-20.9},{"year":2018,"series":"AFAI","v":84.4},{"year":2019,"series":"AFAI","v":35.2},{"year":2020,"series":"AFAI","v":32.5}
]},
"layer":[
{"transform":[{"filter":"datum.series=='Zonal Current'"}],
"mark":{"type":"line","strokeWidth":1.8,"point":{"shape":"M0,-1L0,1M-0.87,-0.5L0.87,0.5M-0.87,0.5L0.87,-0.5","size":100,"filled":false,"strokeWidth":1.6}},
"encoding":{
"x":{"field":"year","type":"quantitative","scale":{"domain":[2011,2020],"nice":false,"zero":false},"axis":{"orient":"bottom","title":null,"values":[2011,2012,2013,2014,2015,2016,2017,2018,2019,2020],"format":"d","labelFontSize":15,"labelColor":"#333","labelPadding":15,"tickSize":-5,"tickColor":"#555","domainColor":"#555","gridColor":"#e9e9ee","grid":true,"labelOverlap":false,"labelFlush":false}},
"y":{"field":"v","type":"quantitative","scale":{"domain":[-0.2,0.4],"nice":false,"zero":false},"axis":{"orient":"left","title":"Zonal current anomaly (m/s)","titleFontSize":17,"titleFontWeight":"normal","titleColor":"#0a78c0","titlePadding":-2,"values":[-0.2,0,0.2,0.4],"labelExpr":"''+datum.value","labelFontSize":15,"labelColor":"#0a78c0","labelPadding":11,"tickSize":-5,"tickColor":"#0a78c0","domainColor":"#5aa8dc","grid":true,"gridColor":"#dfeaf3"}},
"color":{"field":"series","type":"nominal","scale":{"domain":["AFAI","Zonal Current"],"range":["#ff0000","#0072bd"]},"legend":{"orient":"none","legendX":454,"legendY":7,"title":null,"symbolType":"M-1,0L1,0M0,-0.4L0,0.4M-0.35,-0.2L0.35,0.2M-0.35,0.2L0.35,-0.2","symbolSize":300,"symbolStrokeWidth":1.7,"labelFontSize":12.5,"labelColor":"#222","labelOffset":0,"padding":2,"rowPadding":3,"fillColor":"white","strokeColor":"#666"}}
}},
{"transform":[{"filter":"datum.series=='AFAI'"}],
"mark":{"type":"line","strokeWidth":1.8,"point":{"shape":"M0,-1L0,1M-0.87,-0.5L0.87,0.5M-0.87,0.5L0.87,-0.5","size":100,"filled":false,"strokeWidth":1.6}},
"encoding":{
"x":{"field":"year","type":"quantitative","axis":{"orient":"top","title":null,"values":[2011,2012,2013,2014,2015,2016,2017,2018,2019,2020],"labels":false,"tickSize":-5,"tickColor":"#555","domainColor":"#555","grid":false}},
"y":{"field":"v","type":"quantitative","scale":{"domain":[-50,100],"nice":false,"zero":false},"axis":{"orient":"right","title":"AFAI area anomaly (km²)","titleFontSize":17,"titleFontWeight":"normal","titleColor":"#ff0000","titlePadding":4,"values":[-50,0,50,100],"labelFontSize":16,"labelExpr":"''+datum.value","labelColor":"#ff0000","labelPadding":11,"tickSize":-5,"tickColor":"#ff0000","domainColor":"#ff9a9a","grid":false}},
"color":{"field":"series","type":"nominal","legend":null}
}}
],
"resolve":{"scale":{"y":"independent"},"axis":{"x":"independent"}}
},
{"spacing":0,"bounds":"flush","hconcat":[
{"width":9,"height":10,"data":{"values":[]},"mark":{"type":"rule","opacity":0},"encoding":{}},
{"width":560,"height":290.7,
"title":{"text":"(b)","anchor":"start","frame":"group","dx":-76,"dy":17,"offset":0,"fontSize":26,"fontWeight":"bold","color":"#000"},
"data":{"values":[
{"year":2011,"series":"Vertical velocity","v":0.07},{"year":2012,"series":"Vertical velocity","v":-0.53},{"year":2013,"series":"Vertical velocity","v":-0.2},{"year":2014,"series":"Vertical velocity","v":-0.255},{"year":2015,"series":"Vertical velocity","v":0.25},{"year":2016,"series":"Vertical velocity","v":0.34},{"year":2017,"series":"Vertical velocity","v":0.06},{"year":2018,"series":"Vertical velocity","v":0.92},{"year":2019,"series":"Vertical velocity","v":-0.23},{"year":2020,"series":"Vertical velocity","v":-0.205},
{"year":2011,"series":"AFAI","v":-21.6},{"year":2012,"series":"AFAI","v":-12.7},{"year":2013,"series":"AFAI","v":-22.3},{"year":2014,"series":"AFAI","v":-21.6},{"year":2015,"series":"AFAI","v":-7.2},{"year":2016,"series":"AFAI","v":-19.2},{"year":2017,"series":"AFAI","v":-21.3},{"year":2018,"series":"AFAI","v":84.5},{"year":2019,"series":"AFAI","v":33.7},{"year":2020,"series":"AFAI","v":31.6}
]},
"layer":[
{"transform":[{"filter":"datum.series=='Vertical velocity'"}],
"mark":{"type":"line","strokeWidth":1.8,"point":{"shape":"M0,-1L0,1M-0.87,-0.5L0.87,0.5M-0.87,0.5L0.87,-0.5","size":100,"filled":false,"strokeWidth":1.6}},
"encoding":{
"x":{"field":"year","type":"quantitative","scale":{"domain":[2011,2020],"nice":false,"zero":false},"axis":{"orient":"bottom","title":null,"values":[2011,2012,2013,2014,2015,2016,2017,2018,2019,2020],"format":"d","labelFontSize":15,"labelColor":"#333","labelPadding":12,"tickSize":-5,"tickColor":"#555","domainColor":"#555","gridColor":"#e9e9ee","grid":true,"labelOverlap":false,"labelFlush":false}},
"y":{"field":"v","type":"quantitative","scale":{"domain":[-1,1],"nice":false,"zero":false},"axis":{"orient":"left","title":"Vertical velocity anomaly (m/s)","titleFontSize":17.6,"titleFontWeight":"normal","titleColor":"#0a78c0","titlePadding":-2,"titleY":140,"values":[-1,0,1],"labelExpr":"''+datum.value","labelFontSize":15,"labelColor":"#0a78c0","labelPadding":11,"tickSize":-5,"tickColor":"#0a78c0","domainColor":"#5aa8dc","grid":true,"gridColor":"#dfeaf3"}},
"color":{"field":"series","type":"nominal","scale":{"domain":["AFAI","Vertical velocity"],"range":["#ff0000","#0072bd"]},"legend":{"orient":"none","legendX":265,"legendY":13,"title":null,"symbolType":"M-1,0L1,0M0,-0.4L0,0.4M-0.35,-0.2L0.35,0.2M-0.35,0.2L0.35,-0.2","symbolSize":300,"symbolStrokeWidth":1.7,"labelFontSize":12.5,"labelColor":"#222","labelOffset":0,"padding":2,"rowPadding":3,"fillColor":"white","strokeColor":"#666"}}
}},
{"transform":[{"filter":"datum.series=='AFAI'"}],
"mark":{"type":"line","strokeWidth":1.8,"point":{"shape":"M0,-1L0,1M-0.87,-0.5L0.87,0.5M-0.87,0.5L0.87,-0.5","size":100,"filled":false,"strokeWidth":1.6}},
"encoding":{
"x":{"field":"year","type":"quantitative","axis":{"orient":"top","title":null,"values":[2011,2012,2013,2014,2015,2016,2017,2018,2019,2020],"labels":false,"tickSize":-5,"tickColor":"#555","domainColor":"#555","grid":false}},
"y":{"field":"v","type":"quantitative","scale":{"domain":[-100,100],"nice":false,"zero":false},"axis":{"orient":"right","title":"AFAI area (km²)","titleFontSize":17.6,"titleFontWeight":"normal","titleColor":"#ff0000","titlePadding":4,"values":[-100,0,100],"labelFontSize":16,"labelExpr":"''+datum.value","labelColor":"#ff0000","labelPadding":11,"tickSize":-5,"tickColor":"#ff0000","domainColor":"#ff9a9a","grid":false}},
"color":{"field":"series","type":"nominal","legend":null}
}},
{"data":{"values":[{"year":2011,"v":1,"t":"×10"}]},"mark":{"type":"text","align":"left","baseline":"bottom","dy":-2,"fontSize":14,"color":"#4a9dd6"},
"encoding":{"x":{"field":"year","type":"quantitative","axis":null},"y":{"field":"v","type":"quantitative","scale":{"domain":[-1,1],"nice":false,"zero":false},"axis":null},"text":{"field":"t"}}},
{"data":{"values":[{"year":2011,"v":1,"t":"-5"}]},"mark":{"type":"text","align":"left","baseline":"bottom","dx":24,"dy":-6,"fontSize":11,"color":"#4a9dd6"},
"encoding":{"x":{"field":"year","type":"quantitative","axis":null},"y":{"field":"v","type":"quantitative","scale":{"domain":[-1,1],"nice":false,"zero":false},"axis":null},"text":{"field":"t"}}}
],
"resolve":{"scale":{"y":"independent"},"axis":{"x":"independent"}}
}
],"resolve":{"scale":{"x":"independent","y":"independent","color":"independent"}}}
],"spacing":71.3,"bounds":"flush"},
{"vconcat":[
{"width":1,"height":19.3,"data":{"values":[]},"mark":{"type":"rule","opacity":0},"encoding":{}},
{"width":424,"height":275,
"view":{"stroke":"#c4c4c4"},
"title":{"text":"Correlation Eq. Upw. Current (SOND) - AFAI (JFM)","anchor":"middle","dx":-17,"dy":33,"offset":3,"fontSize":17.8,"fontWeight":"bold","color":"#000"},
"layer":[
{"data":{"name":"c"},"mark":{"type":"rect","width":18,"height":14},"encoding":{
"x":{"field":"lon","type":"quantitative","scale":{"domain":[-62.5,-38.5],"nice":false,"zero":false},"axis":{"title":null,"values":[-60,-55,-50,-45,-40],"labelExpr":"abs(datum.value)+'°W'","labelFontSize":16.5,"labelColor":"#404040","labelPadding":13,"tickSize":-4,"tickColor":"#aaa","domainColor":"#bdbdbd","domainWidth":1.5,"grid":false}},
"y":{"field":"lat","type":"quantitative","scale":{"domain":[1,21],"nice":false,"zero":false},"axis":{"title":null,"values":[5,10,15,20],"labelExpr":"datum.value+'°N'","labelFontSize":16.5,"labelColor":"#404040","labelPadding":9,"tickSize":-4,"tickColor":"#aaa","domainColor":"#bdbdbd","domainWidth":1.5,"grid":false}},
"color":{"field":"r","type":"quantitative","scale":{"domain":[-1,-0.75,-0.6,-0.5,-0.35,-0.22,-0.1,0,0.07,0.17,0.3,0.42,0.58,0.72,0.8,0.87,0.93,1],"range":["#ff10b0","#a050d0","#4060e0","#0090ff","#00c8ff","#00ffff","#90ffd0","#f0ffc0","#ffff60","#ffff00","#ffcc00","#ffa000","#ff6600","#ff2000","#e80000","#c00000","#a00000","#700000"]},"legend":{"orient":"none","legendX":432,"legendY":0,"title":null,"direction":"vertical","gradientLength":275,"gradientThickness":14,"values":[-1,-0.5,0,0.5,1],"labelExpr":"''+datum.value","labelFontSize":17,"labelColor":"#333","labelOffset":5,"gradientStrokeColor":"#888","labelOverlap":false,"padding":0}}
}},
{"data":{"name":"c"},"transform":[{"filter":"datum.sig"}],"mark":{"type":"point","shape":"M-1,-1L1,1M-1,1L1,-1","size":90,"filled":false,"stroke":"#555","strokeWidth":0.7,"opacity":0.75},"encoding":{"x":{"field":"lon","type":"quantitative"},"y":{"field":"lat","type":"quantitative"}}},
{"data":{"name":"edge"},"mark":{"type":"point","shape":"M-1,-1L1,1M-1,1L1,-1","size":90,"filled":false,"stroke":"#555","strokeWidth":0.7,"opacity":0.6},"encoding":{"x":{"field":"lon","type":"quantitative"},"y":{"field":"lat","type":"quantitative"}}},
{"data":{"name":"coast"},"mark":{"type":"line","color":"#000","strokeWidth":2.4,"strokeDash":[6,1.5]},"encoding":{"x":{"field":"lon","type":"quantitative"},"y":{"field":"lat","type":"quantitative"},"detail":{"field":"id"},"order":{"field":"n"}}},
{"data":{"values":[{"lon":-66.44,"lat":22.5,"t":"(c)"}]},"mark":{"type":"text","fontSize":26,"fontWeight":"bold","color":"#000"},"encoding":{"x":{"field":"lon","type":"quantitative"},"y":{"field":"lat","type":"quantitative"},"text":{"field":"t"}}}
]},
{"width":1,"height":85.7,"data":{"values":[]},"mark":{"type":"rule","opacity":0},"encoding":{}},
{"width":424,"height":272.7,
"view":{"stroke":"#c4c4c4"},
"title":{"text":"Correlation Eq. upw. velocity (SOND)-AFAI (JFM)","anchor":"middle","dy":28,"offset":3,"fontSize":17.8,"fontWeight":"bold","color":"#000"},
"layer":[
{"data":{"name":"d"},"mark":{"type":"rect","width":18,"height":14},"encoding":{
"x":{"field":"lon","type":"quantitative","scale":{"domain":[-62.5,-38.5],"nice":false,"zero":false},"axis":{"title":null,"values":[-60,-55,-50,-45,-40],"labelExpr":"abs(datum.value)+'°W'","labelFontSize":16.5,"labelColor":"#404040","labelPadding":10,"tickSize":-4,"tickColor":"#aaa","domainColor":"#bdbdbd","domainWidth":1.5,"grid":false}},
"y":{"field":"lat","type":"quantitative","scale":{"domain":[1,21],"nice":false,"zero":false},"axis":{"title":null,"values":[5,10,15,20],"labelExpr":"datum.value+'°N'","labelFontSize":16.5,"labelColor":"#404040","labelPadding":9,"tickSize":-4,"tickColor":"#aaa","domainColor":"#bdbdbd","domainWidth":1.5,"grid":false}},
"color":{"field":"r","type":"quantitative","scale":{"domain":[-1,-0.75,-0.6,-0.5,-0.35,-0.22,-0.1,0,0.07,0.17,0.3,0.42,0.58,0.72,0.8,0.87,0.93,1],"range":["#ff10b0","#a050d0","#4060e0","#0090ff","#00c8ff","#00ffff","#90ffd0","#f0ffc0","#ffff60","#ffff00","#ffcc00","#ffa000","#ff6600","#ff2000","#e80000","#c00000","#a00000","#700000"]},"legend":{"orient":"none","legendX":432,"legendY":0,"title":null,"direction":"vertical","gradientLength":272.7,"gradientThickness":14,"values":[-1,-0.5,0,0.5,1],"labelExpr":"''+datum.value","labelFontSize":17,"labelColor":"#333","labelOffset":5,"gradientStrokeColor":"#888","labelOverlap":false,"padding":0}}
}},
{"data":{"name":"d"},"transform":[{"filter":"datum.sig"}],"mark":{"type":"point","shape":"M-1,-1L1,1M-1,1L1,-1","size":90,"filled":false,"stroke":"#555","strokeWidth":0.7,"opacity":0.75},"encoding":{"x":{"field":"lon","type":"quantitative"},"y":{"field":"lat","type":"quantitative"}}},
{"data":{"name":"edge"},"mark":{"type":"point","shape":"M-1,-1L1,1M-1,1L1,-1","size":90,"filled":false,"stroke":"#555","strokeWidth":0.7,"opacity":0.6},"encoding":{"x":{"field":"lon","type":"quantitative"},"y":{"field":"lat","type":"quantitative"}}},
{"data":{"name":"coast"},"mark":{"type":"line","color":"#000","strokeWidth":2.4,"strokeDash":[6,1.5]},"encoding":{"x":{"field":"lon","type":"quantitative"},"y":{"field":"lat","type":"quantitative"},"detail":{"field":"id"},"order":{"field":"n"}}},
{"data":{"values":[{"lon":-66.35,"lat":22.2,"t":"(d)"}]},"mark":{"type":"text","fontSize":26,"fontWeight":"bold","color":"#000"},"encoding":{"x":{"field":"lon","type":"quantitative"},"y":{"field":"lat","type":"quantitative"},"text":{"field":"t"}}}
]}
],"spacing":0,"bounds":"flush","resolve":{"scale":{"color":"independent"},"legend":{"color":"independent"}}}
],
"spacing":750.7,
"bounds":"flush"
}
